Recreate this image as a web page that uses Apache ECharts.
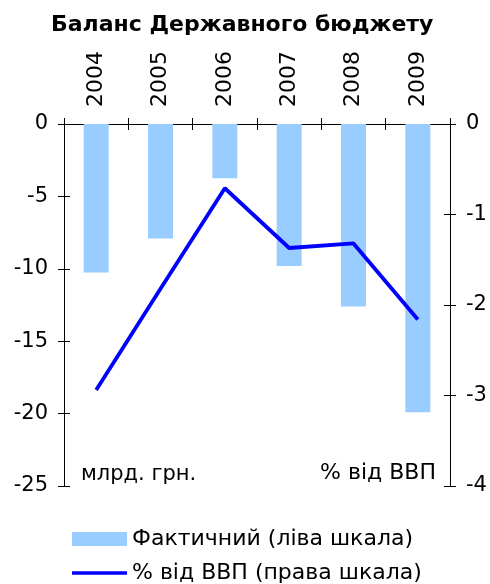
<!DOCTYPE html>
<html>
<head>
<meta charset="utf-8">
<script src="https://cdn.jsdelivr.net/npm/echarts@6/dist/echarts.min.js"></script>
<style>
html, body { margin: 0; padding: 0; background: #fff; }
#chart { width: 490px; height: 584px; }
</style>
</head>
<body>
<div id="chart"></div>
<script>
var years = ['2004', '2005', '2006', '2007', '2008', '2009'];
var balance = [-10.25, -7.9, -3.75, -9.8, -12.6, -19.9];   // млрд. грн.
var balancePct = [-2.94, -1.82, -0.71, -1.37, -1.32, -2.16]; // % від ВВП

var font = 'DejaVu Sans';
var myChart = echarts.init(document.getElementById('chart'));

function yAx(pos, min, max, step, inside, showLabel) {
    return {
        type: 'value',
        position: pos,
        min: min,
        max: max,
        interval: step,
        axisLine: {show: true, lineStyle: {color: '#000', width: 1}},
        axisTick: {show: true, inside: inside, length: 6, lineStyle: {color: '#000'}},
        axisLabel: {show: showLabel, color: '#000', fontFamily: font, fontSize: 21, margin: 16},
        splitLine: {show: false}
    };
}

var option = {
    backgroundColor: '#fff',
    animation: false,
    title: {
        text: 'Баланс Державного бюджету',
        left: 46,
        top: 9,
        textStyle: {fontFamily: font, fontSize: 22, fontWeight: 'bold', color: '#000'}
    },
    grid: {left: 64, right: 40, top: 124, bottom: 98},
    legend: {
        orient: 'vertical',
        left: 72,
        top: 528,
        padding: 0,
        itemWidth: 55,
        itemHeight: 14,
        itemGap: 12,
        align: 'left',
        textStyle: {fontFamily: font, fontSize: 22, color: '#000'},
        data: [
            {name: 'Фактичний (ліва шкала)', icon: 'rect'},
            {name: '% від ВВП (права шкала)', icon: 'path://M0,0 L55,0 L55,3.5 L0,3.5 Z'}
        ]
    },
    xAxis: [{
        type: 'category',
        data: years,
        position: 'top',
        axisLine: {onZero: false, lineStyle: {color: '#000', width: 1}},
        axisTick: {show: true, length: 6, lineStyle: {color: '#000'}},
        axisLabel: {rotate: -90, color: '#000', fontFamily: font, fontSize: 22, margin: 17}
    }, {
        type: 'category',
        data: years,
        position: 'top',
        axisLine: {onZero: false, lineStyle: {color: '#000', width: 1}},
        axisTick: {show: true, inside: true, length: 6, lineStyle: {color: '#000'}},
        axisLabel: {show: false}
    }],
    yAxis: [
        yAx('left', -25, 0, 5, false, true),
        yAx('left', -25, 0, 5, true, false),
        yAx('right', -4, 0, 1, false, true),
        yAx('right', -4, 0, 1, true, false)
    ],
    graphic: [
        {type: 'text', left: 81, top: 464, style: {text: 'млрд. грн.', font: '21px "DejaVu Sans"', fill: '#000'}},
        {type: 'text', right: 54, top: 462, style: {text: '% від ВВП', font: '22px "DejaVu Sans"', fill: '#000'}}
    ],
    series: [{
        name: 'Фактичний (ліва шкала)',
        type: 'bar',
        data: balance,
        barWidth: 25,
        itemStyle: {color: '#99CCFF'}
    }, {
        name: '% від ВВП (права шкала)',
        type: 'line',
        yAxisIndex: 2,
        data: balancePct,
        symbol: 'none',
        lineStyle: {color: '#0000FF', width: 3.8},
        itemStyle: {color: '#0000FF'}
    }]
};

myChart.setOption(option);
</script>
</body>
</html>
